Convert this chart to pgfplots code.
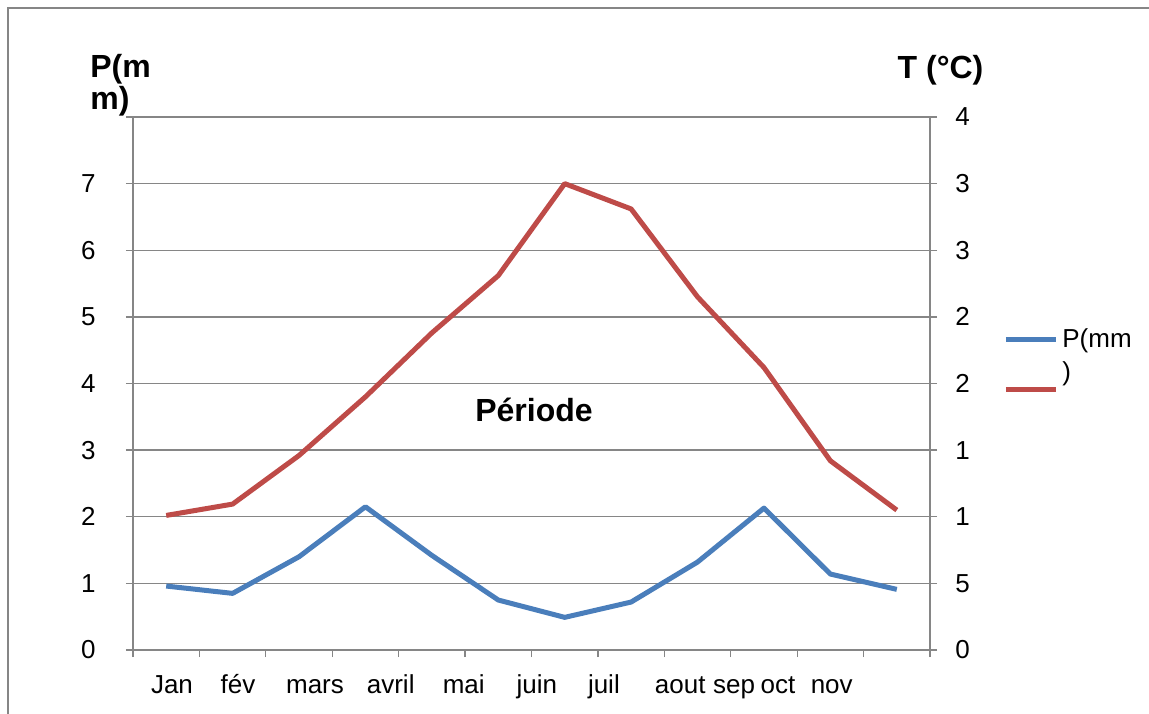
\documentclass[border=0pt]{standalone}
\usepackage{fontspec}
\setmainfont{Liberation Sans}
\usepackage{pgfplots}
\pgfplotsset{compat=1.18}
\definecolor{gridC}{HTML}{868686}
\definecolor{PmmC}{HTML}{4A7EBB}
\definecolor{TC}{HTML}{BE4B48}
\newcommand{\tickfont}{\fontsize{13pt}{15.6pt}\selectfont}
\newcommand{\bigbold}{\fontsize{16pt}{14pt}\selectfont\bfseries}

\begin{document}
\begin{tikzpicture}
\clip (-66.5pt,-31.5pt) rectangle (508pt,325pt);
\draw[gridC, line width=1pt] (-62.5pt,-60pt) rectangle (540pt,321pt);

\begin{axis}[
  at={(0pt,0pt)}, anchor=south west, scale only axis,
  width=398.5pt, height=266.5pt,
  xmin=0.5, xmax=12.5, ymin=0, ymax=8,
  axis x line*=bottom, axis y line*=left,
  axis line style={draw=gridC, line width=0.65pt, -},
  tick style={draw=gridC, line width=0.65pt},
  tick align=outside, major tick length=3.5pt,
  ytick={0,1,...,8},
  yticklabels={0\hspace{-7pt},1,2,3,4,5,6,7,{}},
  yticklabel style={font=\tickfont, anchor=east, inner sep=0pt, xshift=-15pt},
  ymajorgrids=true, grid style={draw=gridC, line width=0.65pt},
  xtick={0.5,1.5,...,12.5}, xticklabels={},
  extra x ticks={1.087,2.08,3.24,4.38,5.48,6.58,7.59,8.74,9.55,10.21,11.02},
  extra x tick labels={Jan,fév,mars,avril,mai,juin,juil,aout,sep,oct,nov},
  extra x tick style={major tick length=0pt, grid=none,
    tick label style={font=\tickfont, anchor=base, inner sep=0pt, yshift=-21.5pt}},
  legend style={at={(axis description cs:1.0915,0.535)}, anchor=west,
    draw=none, fill=none, inner sep=0pt, row sep=12pt, column sep=1pt,
    font=\tickfont, nodes={inner sep=1pt}},
  legend cell align=left,
  legend image code/.code={\draw[#1] (0pt,0pt) -- (25pt,0pt);},
]
\addplot[PmmC, line width=2.5pt, line join=round] coordinates {
  (1,0.96) (2,0.85) (3,1.40) (4,2.15) (5,1.42) (6,0.75)
  (7,0.49) (8,0.72) (9,1.32) (10,2.13) (11,1.14) (12,0.91)};
\addlegendentry{\smash{\begin{tabular}[t]{@{}l@{}}P(mm\\[0.9pt])\end{tabular}}\vphantom{P(}}
\addlegendimage{TC, line width=2.5pt}
\addlegendentry{\vphantom{P(}}
\node[font=\bigbold, anchor=base, inner sep=0pt] at (axis cs:6.537,3.43) {Période};
\end{axis}

\begin{axis}[
  at={(0pt,0pt)}, anchor=south west, scale only axis,
  width=398.5pt, height=266.5pt,
  xmin=0.5, xmax=12.5, ymin=0, ymax=4,
  axis x line=none, axis y line*=right,
  axis line style={draw=gridC, line width=0.65pt, -},
  tick style={draw=gridC, line width=0.65pt},
  tick align=outside, major tick length=3.5pt,
  ytick={0,0.5,...,4},
  yticklabels={0,5,1,1,2,2,3,3,4},
  yticklabel style={font=\tickfont, anchor=west, inner sep=0pt, xshift=9pt},
]
\addplot[TC, line width=2.5pt, line join=round] coordinates {
  (1,1.01) (2,1.095) (3,1.46) (4,1.90) (5,2.38) (6,2.81)
  (7,3.50) (8,3.31) (9,2.65) (10,2.12) (11,1.42) (12,1.05)};
\end{axis}

\node[font=\bigbold, anchor=north west, inner sep=0pt, align=left] at (-21.5pt,298pt) {P(m\\m)};
\node[font=\bigbold, anchor=base, inner sep=0pt] at (403.75pt,285.5pt) {T (°C)};
\end{tikzpicture}
\end{document}
